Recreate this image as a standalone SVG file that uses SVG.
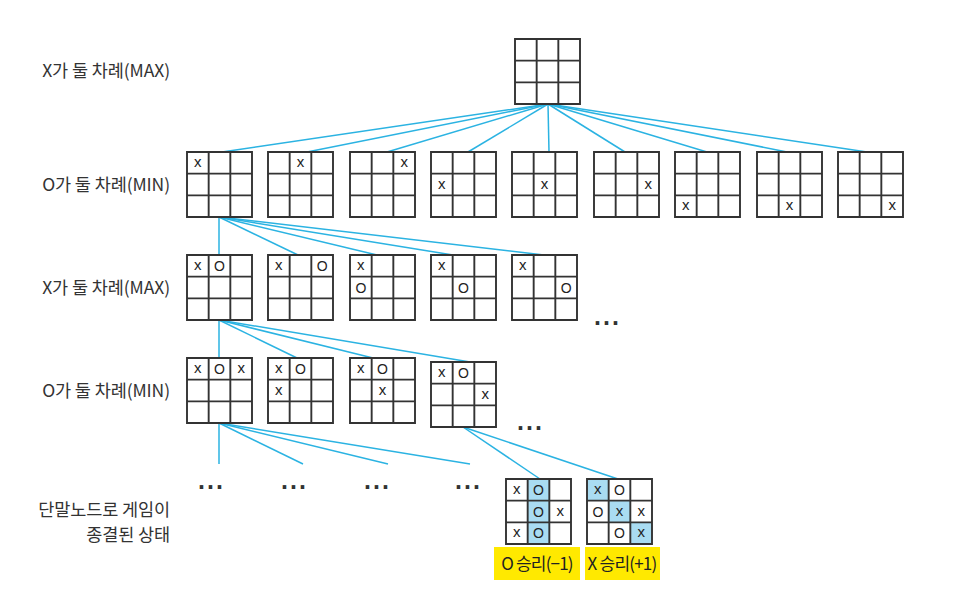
<svg xmlns="http://www.w3.org/2000/svg" xmlns:xlink="http://www.w3.org/1999/xlink" width="967" height="608" viewBox="0 0 967 608">
<style>
.lbl{font-family:"Noto Sans CJK KR","Liberation Sans",sans-serif;font-size:17.5px;fill:#333;text-anchor:end;letter-spacing:-0.1px}
.g{fill:none;stroke:#333;stroke-width:1.9}
.bg{fill:#fff}
.x{font-family:"Liberation Sans",sans-serif;font-size:15px;fill:#222;text-anchor:middle}
.o{font-family:"Liberation Sans",sans-serif;font-size:14px;fill:#222;text-anchor:middle}
.hl{fill:#a9dcf2}
.c line{stroke:#2bb3e2;stroke-width:1.5}
.dots{font-family:"Liberation Sans",sans-serif;font-size:25px;font-weight:bold;fill:#333;letter-spacing:2px}
.win{font-family:"Noto Sans CJK KR","Liberation Sans",sans-serif;font-size:17px;fill:#222;text-anchor:middle;letter-spacing:-0.8px}
</style>
<defs>
<path id="grid" class="g" d="M0 0H65V65H0Z M21.67 0V65 M43.33 0V65 M0 21.67H65 M0 43.33H65"/>
<rect id="bgr" class="bg" width="65" height="65"/>
</defs>
<rect width="967" height="608" fill="#fff"/>

<g id="labels">
<text class="lbl" x="170" y="77">X가 둘 차례(MAX)</text>
<text class="lbl" x="170" y="191">O가 둘 차례(MIN)</text>
<text class="lbl" x="170" y="294">X가 둘 차례(MAX)</text>
<text class="lbl" x="170" y="397">O가 둘 차례(MIN)</text>
<text class="lbl" x="170" y="516">단말노드로 게임이</text>
<text class="lbl" x="170" y="541">종결된 상태</text>
</g>

<g id="connectors" class="c">
<line x1="548" y1="104" x2="222" y2="152"/>
<line x1="548" y1="104" x2="307" y2="152"/>
<line x1="548" y1="104" x2="387" y2="152"/>
<line x1="548" y1="104" x2="468" y2="152"/>
<line x1="548" y1="104" x2="549" y2="152"/>
<line x1="548" y1="104" x2="625" y2="152"/>
<line x1="548" y1="104" x2="707" y2="152"/>
<line x1="548" y1="104" x2="787" y2="152"/>
<line x1="548" y1="104" x2="867" y2="152"/>
<line x1="219" y1="217" x2="219" y2="255"/>
<line x1="219" y1="217" x2="298" y2="255"/>
<line x1="219" y1="217" x2="377" y2="255"/>
<line x1="219" y1="217" x2="453" y2="255"/>
<line x1="219" y1="217" x2="544" y2="255"/>
<line x1="219" y1="320" x2="219" y2="358"/>
<line x1="219" y1="320" x2="297" y2="358"/>
<line x1="219" y1="320" x2="373" y2="358"/>
<line x1="219" y1="320" x2="470" y2="362"/>
<line x1="219" y1="423" x2="219" y2="464"/>
<line x1="219" y1="423" x2="303" y2="464"/>
<line x1="219" y1="423" x2="388" y2="464"/>
<line x1="219" y1="423" x2="470" y2="464"/>
<line x1="463" y1="427" x2="540" y2="479"/>
<line x1="463" y1="427" x2="618" y2="479"/>
</g>

<g id="root" transform="translate(515,39)"><use href="#bgr"/><use href="#grid"/></g>

<g id="n1" transform="translate(187,152)"><use href="#bgr"/><use href="#grid"/><text class="x" x="10.83" y="15">x</text></g>
<g id="n2" transform="translate(268,152)"><use href="#bgr"/><use href="#grid"/><text class="x" x="32.5" y="15">x</text></g>
<g id="n3" transform="translate(350,152)"><use href="#bgr"/><use href="#grid"/><text class="x" x="54.17" y="15">x</text></g>
<g id="n4" transform="translate(431,152)"><use href="#bgr"/><use href="#grid"/><text class="x" x="10.83" y="36.7">x</text></g>
<g id="n5" transform="translate(512,152)"><use href="#bgr"/><use href="#grid"/><text class="x" x="32.5" y="36.7">x</text></g>
<g id="n6" transform="translate(594,152)"><use href="#bgr"/><use href="#grid"/><text class="x" x="54.17" y="36.7">x</text></g>
<g id="n7" transform="translate(675,152)"><use href="#bgr"/><use href="#grid"/><text class="x" x="10.83" y="58.3">x</text></g>
<g id="n8" transform="translate(757,152)"><use href="#bgr"/><use href="#grid"/><text class="x" x="32.5" y="58.3">x</text></g>
<g id="n9" transform="translate(838,152)"><use href="#bgr"/><use href="#grid"/><text class="x" x="54.17" y="58.3">x</text></g>

<g id="n1_1" transform="translate(187,255)"><use href="#bgr"/><use href="#grid"/><text class="x" x="10.83" y="15">x</text><text class="o" x="32.5" y="16">O</text></g>
<g id="n1_2" transform="translate(268,255)"><use href="#bgr"/><use href="#grid"/><text class="x" x="10.83" y="15">x</text><text class="o" x="54.17" y="16">O</text></g>
<g id="n1_3" transform="translate(350,255)"><use href="#bgr"/><use href="#grid"/><text class="x" x="10.83" y="15">x</text><text class="o" x="10.83" y="37.5">O</text></g>
<g id="n1_4" transform="translate(431,255)"><use href="#bgr"/><use href="#grid"/><text class="x" x="10.83" y="15">x</text><text class="o" x="32.5" y="37.5">O</text></g>
<g id="n1_5" transform="translate(512,255)"><use href="#bgr"/><use href="#grid"/><text class="x" x="10.83" y="15">x</text><text class="o" x="54.17" y="37.5">O</text></g>
<text class="dots" x="594" y="325">...</text>

<g id="n1_1_1" transform="translate(187,358)"><use href="#bgr"/><use href="#grid"/><text class="x" x="10.83" y="15">x</text><text class="o" x="32.5" y="16">O</text><text class="x" x="54.17" y="15">x</text></g>
<g id="n1_1_2" transform="translate(268,358)"><use href="#bgr"/><use href="#grid"/><text class="x" x="10.83" y="15">x</text><text class="o" x="32.5" y="16">O</text><text class="x" x="10.83" y="36.7">x</text></g>
<g id="n1_1_3" transform="translate(350,358)"><use href="#bgr"/><use href="#grid"/><text class="x" x="10.83" y="15">x</text><text class="o" x="32.5" y="16">O</text><text class="x" x="32.5" y="36.7">x</text></g>
<g id="n1_1_4" transform="translate(431,362)"><use href="#bgr"/><use href="#grid"/><text class="x" x="10.83" y="15">x</text><text class="o" x="32.5" y="16">O</text><text class="x" x="54.17" y="36.7">x</text></g>
<text class="dots" x="517" y="430">...</text>

<g id="ellipses">
<text class="dots" x="198" y="489">...</text>
<text class="dots" x="281" y="489">...</text>
<text class="dots" x="364" y="489">...</text>
<text class="dots" x="455" y="489">...</text>
</g>

<g id="leafO" transform="translate(506,479)"><use href="#bgr"/>
<rect class="hl" x="21.67" y="0" width="21.67" height="65"/>
<use href="#grid"/>
<text class="x" x="10.83" y="15">x</text><text class="o" x="32.5" y="16">O</text>
<text class="o" x="32.5" y="37.5">O</text><text class="x" x="54.17" y="36.7">x</text>
<text class="x" x="10.83" y="58.3">x</text><text class="o" x="32.5" y="59.2">O</text>
</g>
<g id="leafX" transform="translate(587,479)"><use href="#bgr"/>
<rect class="hl" x="0" y="0" width="21.67" height="21.67"/>
<rect class="hl" x="21.67" y="21.67" width="21.67" height="21.67"/>
<rect class="hl" x="43.33" y="43.33" width="21.67" height="21.67"/>
<use href="#grid"/>
<text class="x" x="10.83" y="15">x</text><text class="o" x="32.5" y="16">O</text>
<text class="o" x="10.83" y="37.5">O</text><text class="x" x="32.5" y="36.7">x</text><text class="x" x="54.17" y="36.7">x</text>
<text class="o" x="32.5" y="59.2">O</text><text class="x" x="54.17" y="58.3">x</text>
</g>

<g id="resO"><rect x="494" y="547" width="86" height="33" fill="#ffe900"/><text class="win" x="537" y="570">O 승리(−1)</text></g>
<g id="resX"><rect x="585" y="547" width="75" height="33" fill="#ffe900"/><text class="win" x="622" y="570">X 승리(+1)</text></g>
</svg>
